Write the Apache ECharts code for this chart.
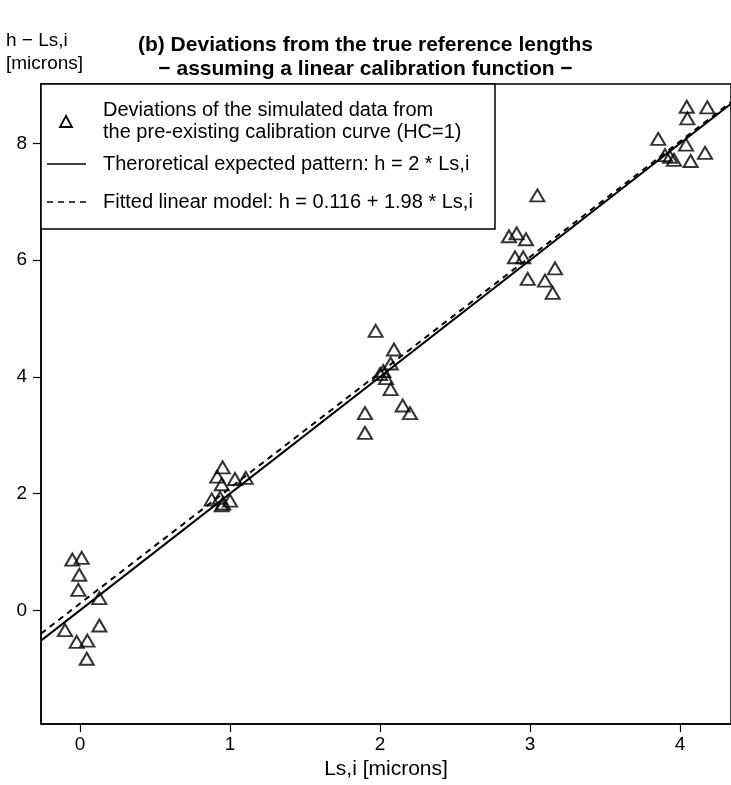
<!DOCTYPE html>
<html>
<head>
<meta charset="utf-8">
<script src="https://cdn.jsdelivr.net/npm/echarts@6/dist/echarts.min.js"></script>
<style>html,body{margin:0;padding:0;background:#fff}#c{width:731px;height:785px}</style>
</head>
<body>
<div id="c"></div>
<script>
// Data
const lsValues = [
  -0.051, 0.011, -0.005, -0.011, 0.129, -0.100, -0.022, 0.049, 0.129, 0.045,
  0.951, 0.915, 0.945, 1.033, 1.105, 0.878, 0.933, 0.955, 1.000, 0.945,
  1.971, 2.093, 2.071, 2.022, 2.040, 2.000, 2.071, 2.151, 2.200, 1.900, 1.900,
  3.049, 2.860, 2.911, 2.973, 2.900, 2.955, 3.167, 2.985, 3.100, 3.151,
  4.045, 4.182, 4.049, 3.855, 4.040, 4.167, 3.900, 3.933, 3.960, 4.071
];
const hValues = [
  0.87, 0.90, 0.61, 0.35, 0.21, -0.34, -0.54, -0.52, -0.26, -0.83,
  2.45, 2.29, 2.16, 2.25, 2.27, 1.90, 1.93, 1.83, 1.88, 1.80,
  4.79, 4.47, 4.23, 4.10, 3.98, 4.05, 3.79, 3.51, 3.38, 3.38, 3.04,
  7.11, 6.41, 6.46, 6.36, 6.05, 6.05, 5.86, 5.68, 5.65, 5.44,
  8.63, 8.62, 8.43, 8.08, 7.98, 7.84, 7.80, 7.77, 7.72, 7.70
];
const xTicks = [0, 1, 2, 3, 4];
const yTicks = [0, 2, 4, 6, 8];
const theoretical = { intercept: 0, slope: 2 };
const fitted = { intercept: 0.116, slope: 1.98 };
const xRange = [-0.26, 4.34];
const yRange = [-1.95, 9.02];
const legendTexts = [
  'Deviations of the simulated data from',
  'the pre-existing calibration curve (HC=1)',
  'Theroretical expected pattern: h = 2 * Ls,i',
  'Fitted linear model: h = 0.116 + 1.98 * Ls,i'
];

const points = lsValues.map((x, i) => [x, hValues[i]]);
const lineData = m => xRange.map(x => [x, m.intercept + m.slope * x]);

const FONT = '"Liberation Sans", Arial, sans-serif';
const chart = echarts.init(document.getElementById('c'), null, { renderer: 'canvas' });

const GL = 41, GT = 84, GR = 0, GB = 50;

chart.setOption({
  animation: false,
  backgroundColor: '#fff',
  textStyle: { fontFamily: FONT, color: '#000' },
  grid: { left: GL, top: GT, right: GR, bottom: GB, show: true, borderColor: '#000', borderWidth: 1.5, containLabel: false },
  xAxis: {
    type: 'value', min: xRange[0], max: xRange[1],
    axisLine: { show: true, onZero: false, lineStyle: { color: '#000', width: 1.5 } },
    axisTick: { show: true, inside: false, length: 8, customValues: xTicks, lineStyle: { color: '#000', width: 1.2 } },
    axisLabel: { customValues: xTicks, margin: 11, fontSize: 19, color: '#000', fontFamily: FONT },
    splitLine: { show: false },
    name: 'Ls,i [microns]', nameLocation: 'middle', nameGap: 33,
    nameTextStyle: { fontSize: 21, color: '#000', fontFamily: FONT, verticalAlign: 'top' }
  },
  yAxis: {
    type: 'value', min: yRange[0], max: yRange[1],
    axisLine: { show: true, onZero: false, lineStyle: { color: '#000', width: 1.5 } },
    axisTick: { show: true, inside: false, length: 8, customValues: yTicks, lineStyle: { color: '#000', width: 1.2 } },
    axisLabel: { customValues: yTicks, margin: 14, fontSize: 19, color: '#000', fontFamily: FONT },
    splitLine: { show: false }
  },
  series: [
    {
      type: 'line', data: lineData(theoretical), symbol: 'none', clip: true,
      lineStyle: { color: '#000', width: 2, type: 'solid' }, z: 2
    },
    {
      type: 'line', data: lineData(fitted), symbol: 'none', clip: true,
      lineStyle: { color: '#000', width: 2, type: [6, 5] }, z: 3
    },
    {
      type: 'scatter', data: points, symbol: 'triangle', symbolSize: [14, 12],
      itemStyle: { color: 'rgba(255,255,255,0)', borderColor: '#000', borderWidth: 2 }, z: 4
    }
  ],
  graphic: [
    { type: 'text', left: 'center', top: 35, style: { text: '(b) Deviations from the true reference lengths', font: 'bold 21px ' + FONT, fill: '#000' } },
    { type: 'text', left: 'center', top: 59, style: { text: '− assuming a linear calibration function −', font: 'bold 21px ' + FONT, fill: '#000' } },
    { type: 'text', left: 6, top: 31, style: { text: 'h − Ls,i', font: '19px ' + FONT, fill: '#000' } },
    { type: 'text', left: 6, top: 54, style: { text: '[microns]', font: '19px ' + FONT, fill: '#000' } },
    // legend box
    { type: 'rect', shape: { x: GL, y: GT, width: 454, height: 145 }, style: { fill: '#fff', stroke: '#000', lineWidth: 1.5 }, z: 10 },
    { type: 'polygon', shape: { points: [[66, 116], [72, 127], [60, 127]] }, style: { fill: 'none', stroke: '#000', lineWidth: 1.8 }, z: 11 },
    { type: 'text', x: 103, y: 110, style: { text: legendTexts[0], font: '20px ' + FONT, fill: '#000', textVerticalAlign: 'middle' }, z: 11 },
    { type: 'text', x: 103, y: 132, style: { text: legendTexts[1], font: '20px ' + FONT, fill: '#000', textVerticalAlign: 'middle' }, z: 11 },
    { type: 'line', shape: { x1: 47, y1: 164, x2: 86, y2: 164 }, style: { stroke: '#000', lineWidth: 1.5 }, z: 11 },
    { type: 'text', x: 103, y: 164, style: { text: legendTexts[2], font: '20px ' + FONT, fill: '#000', textVerticalAlign: 'middle' }, z: 11 },
    { type: 'line', shape: { x1: 47, y1: 202, x2: 86, y2: 202 }, style: { stroke: '#000', lineWidth: 1.5, lineDash: [6, 5] }, z: 11 },
    { type: 'text', x: 103, y: 202, style: { text: legendTexts[3], font: '20px ' + FONT, fill: '#000', textVerticalAlign: 'middle' }, z: 11 }
  ]
});
</script>
</body>
</html>
